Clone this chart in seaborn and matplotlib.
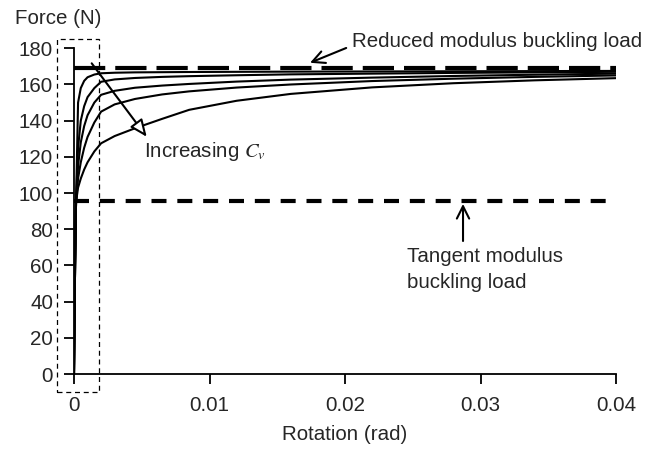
import numpy as np
import pandas as pd
import seaborn as sns
import matplotlib.pyplot as plt
from matplotlib.patches import Rectangle

# rotation samples (rad) and force (N), top curve = smallest Cv
rotation = [0, 0.00008, 0.00015, 0.0003, 0.0005, 0.00075, 0.001, 0.0015, 0.002,
            0.003, 0.0045, 0.0065, 0.0085, 0.012, 0.016, 0.022, 0.028, 0.034, 0.04]
force_cv1 = [0, 60, 95, 150, 158, 162, 164, 165.5, 166.2, 166.5, 166.7, 166.8,
             166.9, 167.0, 167.1, 167.2, 167.3, 167.4, 167.5]
force_cv2 = [0, 60, 95, 125, 140, 148, 153, 158, 161.5, 162.8, 163.6, 164.2,
             164.6, 165.1, 165.6, 166.0, 166.4, 166.7, 167.0]
force_cv3 = [0, 60, 95, 115, 128, 137, 143, 150, 154.3, 156.5, 158.2, 159.4,
             160.3, 161.6, 162.7, 163.8, 164.7, 165.4, 166.0]
force_cv4 = [0, 60, 95, 108, 117, 125, 131, 139, 145.0, 149.0, 152.0, 154.5,
             156.2, 158.3, 160.0, 161.9, 163.2, 164.2, 165.0]
force_cv5 = [0, 60, 95, 103, 108, 113, 117, 123, 127.5, 131.5, 135.8, 141.0,
             146.0, 151.0, 154.8, 158.4, 160.7, 162.3, 163.5]

reduced_load = 169
tangent_load = 95.5

x_ticks = [0, 0.01, 0.02, 0.03, 0.04]
x_ticklabels = ['0', '0.01', '0.02', '0.03', '0.04']
y_ticks = list(range(0, 181, 20))

curves = [force_cv1, force_cv2, force_cv3, force_cv4, force_cv5]
df = pd.concat([pd.DataFrame({'rotation': rotation, 'force': f, 'curve': i})
                for i, f in enumerate(curves)])

sns.set_style('ticks')
plt.rcParams['font.family'] = ['Liberation Sans', 'DejaVu Sans']
plt.rcParams['mathtext.fontset'] = 'stix'
fs = 14.8

fig = plt.figure(figsize=(6.55, 4.5), dpi=100)
ax = fig.add_axes([74/655, 1 - 374/450, (616 - 74)/655, (374 - 48.3)/450])

sns.lineplot(data=df, x='rotation', y='force', units='curve', estimator=None,
             sort=False, color='black', lw=1.5, ax=ax)

ax.plot([0, 0.04], [reduced_load, reduced_load], color='black', lw=3,
        dashes=(7.5, 2.4), solid_capstyle='butt', clip_on=False)
ax.plot([0, 0.04], [tangent_load, tangent_load], color='black', lw=3,
        dashes=(3.6, 2.6), solid_capstyle='butt', clip_on=False)

# dashed box around the zoomed start region
ax.add_patch(Rectangle((-0.00128, -10.1), 0.00313, 195.2, fill=False,
                       ec='black', lw=0.9, ls=(0, (4, 3)), clip_on=False))

ax.set_xlim(0, 0.04)
ax.set_ylim(0, 180)
ax.set_xticks(x_ticks)
ax.set_xticklabels(x_ticklabels)
ax.set_yticks(y_ticks)
ax.tick_params(axis='both', labelsize=fs, length=7, width=1.3, color='black',
               direction='out')
ax.tick_params(axis='x', pad=9)
ax.tick_params(axis='y', pad=8)
sns.despine(ax=ax)
for s in ['left', 'bottom']:
    ax.spines[s].set_linewidth(1.3)
    ax.spines[s].set_color('black')
ax.set_xlabel('')
ax.set_ylabel('')

fig.text(15/655, 1 - 18/450, 'Force (N)', fontsize=fs, ha='left', va='center')
fig.text(345/655, 1 - 435/450, 'Rotation (rad)', fontsize=fs, ha='center', va='center')

ax.annotate('Reduced modulus buckling load', xy=(0.01742, 172.0), xytext=(0.02052, 183.6),
            fontsize=fs, ha='left', va='center', annotation_clip=False,
            arrowprops=dict(arrowstyle='->,head_length=0.6,head_width=0.3', lw=1.5,
                            color='black', relpos=(0, 0.3), shrinkA=2, shrinkB=0))

ax.annotate('', xy=(0.005365, 131.1), xytext=(0.001306, 171.7), annotation_clip=False,
            arrowprops=dict(arrowstyle='-|>,head_length=0.7,head_width=0.3', lw=1.5,
                            fc='white', ec='black', shrinkA=0, shrinkB=0),
            fontsize=fs)
ax.text(0.00519, 123.1, 'Increasing $C_v$', fontsize=fs, ha='left', va='center')

ax.annotate('', xy=(0.02871, 94.0), xytext=(0.02871, 73.5), annotation_clip=False,
            arrowprops=dict(arrowstyle='->,head_length=0.6,head_width=0.3', lw=1.5,
                            color='black', shrinkA=0, shrinkB=0),
            fontsize=fs)
ax.text(0.02455, 64.8, 'Tangent modulus', fontsize=fs, ha='left', va='center')
ax.text(0.02455, 50.3, 'buckling load', fontsize=fs, ha='left', va='center')

fig.savefig('out.png', dpi=100)
